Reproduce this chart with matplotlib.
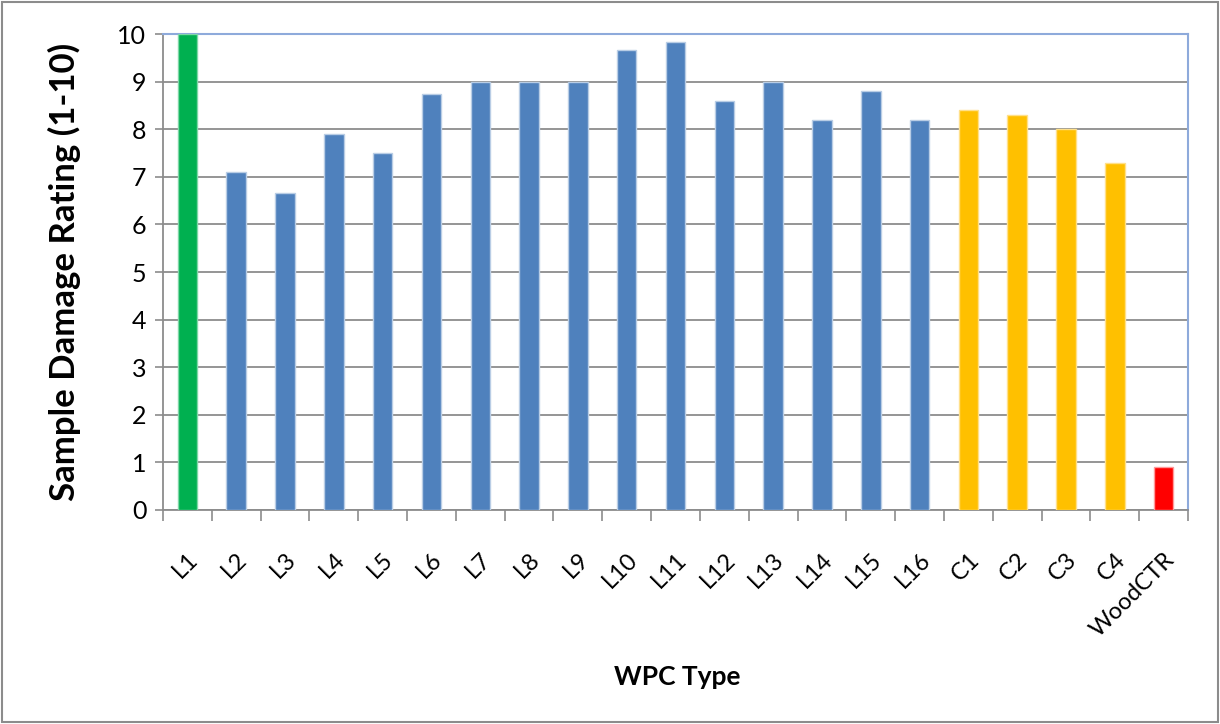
import numpy as np
import matplotlib.pyplot as plt
from matplotlib.patches import Rectangle

# Datos
categories = ["L1", "L2", "L3", "L4", "L5", "L6", "L7", "L8", "L9", "L10", "L11",
              "L12", "L13", "L14", "L15", "L16", "C1", "C2", "C3", "C4", "WoodCTR"]
ratings = [10.0, 7.1, 6.65, 7.9, 7.5, 8.75, 9.0, 9.0, 9.0, 9.66, 9.83,
           8.59, 9.0, 8.19, 8.8, 8.19, 8.4, 8.29, 8.0, 7.3, 0.9]
groups = ["best"] + ["L"] * 15 + ["C"] * 4 + ["ctrl"]

colors_map = {"best": "#00B050", "L": "#4F81BD", "C": "#FFC000", "ctrl": "#FF0000"}
edge_map = {"best": "#7FD7A7", "L": "#B9CDE5", "C": "#FFE08A", "ctrl": "#FF9A9A"}

plt.rcParams['font.family'] = ['Lato', 'DejaVu Sans']

fig = plt.figure(figsize=(12.2, 7.24), dpi=100)
ax = fig.add_axes([0.1336, 0.2956, 0.8402, 0.6574])

x_pos = np.arange(len(categories))
ax.bar(x_pos, ratings, width=0.4,
       color=[colors_map[g] for g in groups],
       edgecolor=[edge_map[g] for g in groups], linewidth=1.0, zorder=3)

ax.set_xlim(-0.5, len(categories) - 0.5)
ax.set_ylim(0, 10)
ax.set_yticks(range(0, 11))
ax.tick_params(axis="y", labelsize=18, length=6, width=1.2, color="#8C8C8C", pad=6)

# Ticks del eje X en los límites de categoría
ax.set_xticks(np.arange(-0.5, len(categories), 1.0), minor=False)
ax.set_xticklabels([])
ax.tick_params(axis="x", length=8, width=1.2, color="#8C8C8C")
ax.set_xticks(x_pos, minor=True)
ax.set_xticklabels(categories, minor=True, rotation=45, ha="right", va="top",
                   rotation_mode="anchor", fontsize=17)
ax.tick_params(axis="x", which="minor", length=0, pad=28)

ax.grid(axis="y", color="#8C8C8C", linewidth=1.3, zorder=0)

for side in ["left", "bottom"]:
    ax.spines[side].set_color("#8C8C8C")
    ax.spines[side].set_linewidth(1.3)
for side in ["top", "right"]:
    ax.spines[side].set_color("#8EAADB")
    ax.spines[side].set_linewidth(1.5)

ax.set_ylabel("Sample Damage Rating (1-10)", fontsize=25, fontweight="bold", labelpad=26)
fig.text(0.555, 0.065, "WPC Type", ha="center", va="center", fontsize=19, fontweight="bold")

# Borde exterior
fig.patches.append(Rectangle((0.002, 0.003), 0.996, 0.994, transform=fig.transFigure,
                             fill=False, edgecolor="#8C8C8C", linewidth=1.5))

plt.savefig("out.png", dpi=100)
